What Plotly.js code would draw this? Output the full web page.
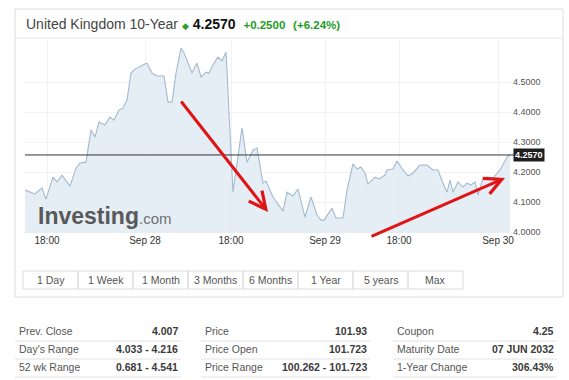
<!DOCTYPE html>
<html>
<head>
<meta charset="utf-8">
<script src="https://cdn.plot.ly/plotly-3.0.1.min.js"></script>
<style>
html,body{margin:0;padding:0;background:#fff;}
#chart{width:569px;height:380px;}
</style>
</head>
<body>
<div id="chart"></div>
<script>
// ---- data (compressed trading-time index, yield %) ----
const timeIdx = [0,10,17,21,28,32,37,45,51,55,61,63,66,70,74,80,85,89,94,98,102,106,110,120,122,127,132,139,143,147,151,156,159,167,172,176,181,184,189,193,197,201,208,217,222,228,232,238,241,248,258,262,268,273,280,286,292,296,299,307,311,318,322,328,332,336,340,343,350,354,360,362,368,372,378,383,388,395,402,408,413,418,422,425,428,433,438,442,446,450,453,458,463,468,475,482,485];
const yieldVals = [4.140,4.127,4.147,4.110,4.183,4.167,4.190,4.153,4.213,4.230,4.233,4.273,4.340,4.317,4.367,4.357,4.383,4.373,4.407,4.413,4.440,4.530,4.543,4.560,4.563,4.530,4.520,4.520,4.433,4.433,4.530,4.613,4.597,4.530,4.563,4.517,4.533,4.530,4.563,4.583,4.570,4.600,4.133,4.347,4.233,4.273,4.280,4.163,4.170,4.117,4.070,4.133,4.120,4.143,4.050,4.117,4.057,4.040,4.040,4.080,4.047,4.047,4.140,4.227,4.210,4.217,4.197,4.160,4.183,4.177,4.190,4.207,4.210,4.237,4.207,4.187,4.197,4.223,4.223,4.207,4.207,4.163,4.133,4.173,4.133,4.167,4.150,4.163,4.157,4.167,4.123,4.180,4.183,4.180,4.207,4.250,4.257];
const lastValue = 4.257;
const xTickVals = [22,120,206,300,374,473];
const xTickText = ['18:00','Sep 28','18:00','Sep 29','18:00','Sep 30'];
const yTickVals = [4.0,4.1,4.2,4.3,4.4,4.5];
const rangeButtons = ['1 Day','1 Week','1 Month','3 Months','6 Months','1 Year','5 years','Max'];
const tableLabels = [['Prev. Close',"Day's Range",'52 wk Range'],['Price','Price Open','Price Range'],['Coupon','Maturity Date','1-Year Change']];
const tableValues = [['4.007','4.033 - 4.216','0.681 - 4.541'],['101.93','101.723','100.262 - 101.723'],['4.25','07 JUN 2032','306.43%']];

// ---- layout helpers (pixel -> paper) ----
const W = 569, H = 380;
const px = x => x / W;
const py = y => 1 - y / H;
const FONT = 'Arial, "Liberation Sans", sans-serif';

const trace = {
  x: timeIdx, y: yieldVals, type: 'scatter', mode: 'lines',
  line: {color: '#a3bad0', width: 1.1},
  fill: 'tozeroy', fillcolor: 'rgba(224,234,243,0.85)',
  hoverinfo: 'skip'
};

const shapes = [];
const annotations = [];

// outer frame
shapes.push({type:'rect', xref:'paper', yref:'paper', x0:px(15), x1:px(563), y0:py(297), y1:py(9), line:{color:'#dcdcdc', width:1}});
shapes.push({type:'line', xref:'paper', yref:'paper', x0:px(15), x1:px(563), y0:py(38), y1:py(38), line:{color:'#e6e6e6', width:1}});

// last value line
shapes.push({type:'line', xref:'paper', yref:'y', x0:px(25), x1:px(514), y0:lastValue, y1:lastValue, line:{color:'#333', width:1}});
annotations.push({xref:'paper', yref:'y', x:px(513), y:lastValue, xanchor:'left', yanchor:'middle', text:'<b>'+lastValue.toFixed(4)+'</b>', showarrow:false, bgcolor:'#1e1e1e', font:{color:'#fff', size:9, family:FONT}, borderpad:1});

// title
annotations.push({xref:'paper', yref:'paper', x:px(24), y:py(24), xanchor:'left', yanchor:'middle', showarrow:false,
  text:'United Kingdom 10-Year <span style="color:#2ca02c;font-size:9px">◆</span> <b style="color:#111">4.2570</b>  <b style="color:#1e9c1e;font-size:11.5px">+0.2500</b>  <b style="color:#1e9c1e;font-size:11.5px">(+6.24%)</b>',
  font:{size:14, color:'#444', family:FONT}});

// watermark
annotations.push({xref:'paper', yref:'paper', x:px(36), y:py(216), xanchor:'left', yanchor:'middle', showarrow:false,
  text:'<b>Investing</b><span style="font-size:15px;color:#707070;font-family:Arial">.com</span>',
  font:{size:23, color:'#595959', family:'"Liberation Sans Narrow", "Arial Narrow", Arial, sans-serif'}});

// red arrows
annotations.push({xref:'paper', yref:'paper', x:px(268), y:py(212), ax:-88, ay:-112, axref:'pixel', ayref:'pixel', text:'', showarrow:true, arrowcolor:'#e01414', arrowwidth:3, arrowhead:5, arrowsize:1.1});
annotations.push({xref:'paper', yref:'paper', x:px(505), y:py(178), ax:-135, ay:59, axref:'pixel', ayref:'pixel', text:'', showarrow:true, arrowcolor:'#e01414', arrowwidth:3, arrowhead:5, arrowsize:1.1});

// range buttons
const bx0 = 23, bw = 55, by0 = 271, by1 = 289;
rangeButtons.forEach((lab, i) => {
  shapes.push({type:'rect', xref:'paper', yref:'paper', x0:px(bx0+i*bw), x1:px(bx0+(i+1)*bw), y0:py(by1), y1:py(by0), line:{color:'#dcdcdc', width:1}, fillcolor:'rgba(0,0,0,0)'});
  annotations.push({xref:'paper', yref:'paper', x:px(bx0+i*bw+bw/2), y:py((by0+by1)/2), xanchor:'center', yanchor:'middle', showarrow:false, text:lab, font:{size:10.5, color:'#555', family:FONT}});
});

// table
const colLeft = [17, 203, 395];
const colRight = [180, 369, 556];
const rowY = [331, 349, 367];
tableLabels.forEach((col, c) => {
  col.forEach((lab, r) => {
    annotations.push({xref:'paper', yref:'paper', x:px(colLeft[c]), y:py(rowY[r]), xanchor:'left', yanchor:'middle', showarrow:false, text:lab, font:{size:10.5, color:'#555', family:FONT}});
    annotations.push({xref:'paper', yref:'paper', x:px(colRight[c]), y:py(rowY[r]), xanchor:'right', yanchor:'middle', showarrow:false, text:'<b>'+tableValues[c][r]+'</b>', font:{size:10.5, color:'#3a3a3a', family:FONT}});
    shapes.push({type:'line', xref:'paper', yref:'paper', x0:px(colLeft[c]-2), x1:px(colRight[c]+1), y0:py(rowY[r]+10), y1:py(rowY[r]+10), line:{color:'#e2e2e2', width:1}});
  });
});

const layout = {
  width: W, height: H,
  margin: {l:0, r:0, t:0, b:0, pad:0},
  paper_bgcolor: '#fff', plot_bgcolor: '#fff',
  showlegend: false,
  font: {family: FONT},
  xaxis: {
    domain: [px(25), px(512)], range: [0, 487],
    tickmode: 'array', tickvals: xTickVals, ticktext: xTickText,
    showgrid: true, gridcolor: '#f2f2f2', zeroline: false, showline: false,
    ticks: '', tickfont: {size: 10, color: '#333', family: FONT}, fixedrange: true
  },
  yaxis: {
    domain: [py(233), py(40)], range: [3.997, 4.64], side: 'right',
    tickmode: 'array', tickvals: yTickVals, tickformat: '.4f',
    showgrid: true, gridcolor: '#f2f2f2', zeroline: false, showline: false,
    ticks: '', tickfont: {size: 9, color: '#555', family: FONT}, fixedrange: true
  },
  shapes: shapes,
  annotations: annotations
};

Plotly.newPlot('chart', [trace], layout, {displayModeBar: false, staticPlot: true});
</script>
</body>
</html>
